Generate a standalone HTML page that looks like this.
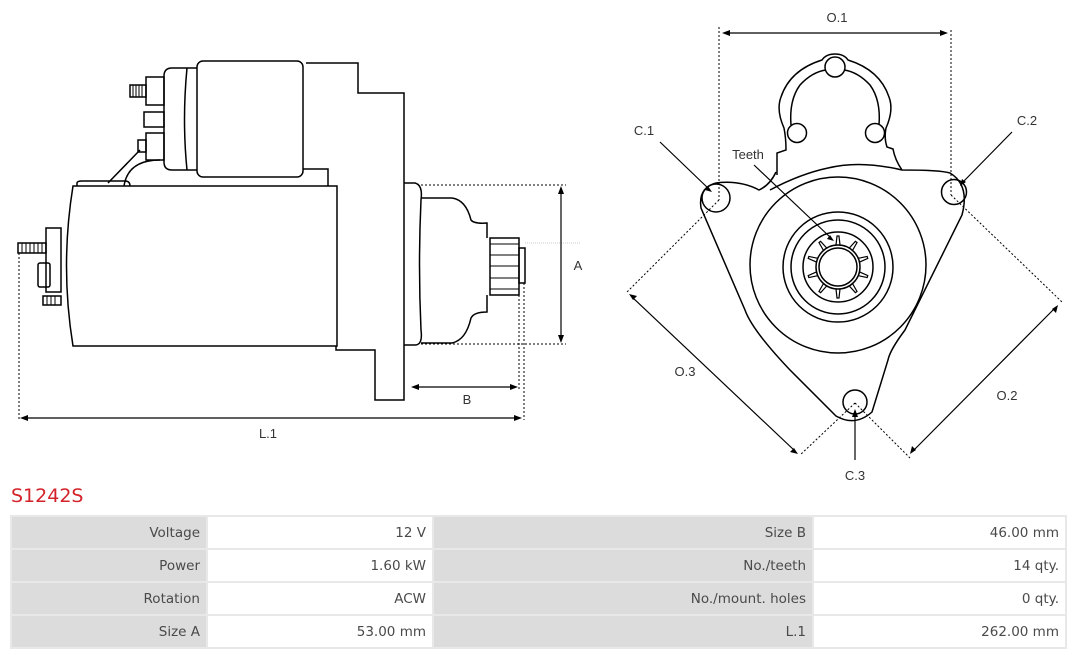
<!DOCTYPE html>
<html><head><meta charset="utf-8"><style>
body{margin:0;background:#fff;width:1080px;height:655px;overflow:hidden;font-family:"DejaVu Sans","Liberation Sans",sans-serif;}
svg{position:absolute;left:0;top:0}
.t{position:absolute;left:11px;top:485px;color:#d3222a;font-size:19px;}
table{position:absolute;left:10px;top:515px;width:1057px;border-collapse:separate;border-spacing:2px;background:#e8e8e8;font-size:13.5px;color:#4a4a4a}
td{height:31px;padding:0 6px;text-align:right}
td.l{background:#dcdcdc}
td.v{background:#fff}
</style></head><body>
<svg width="1080" height="500" viewBox="0 0 1080 500" fill="none" stroke="#000" stroke-width="1.5">
<!-- LEFT VIEW -->
<rect x="197" y="61" width="106" height="116" rx="6"/>
<path d="M197 68 H172 Q164 68 164 76 V162 Q164 170 172 170 H197"/>
<path d="M187 68 Q182 120 187 170"/>
<rect x="146" y="77" width="18" height="28"/><rect x="130" y="85" width="16" height="12"/>
<path d="M133 85v12M136 85v12M139 85v12M142 85v12" stroke-width="1"/>
<rect x="144" y="112" width="20" height="15"/>
<rect x="146" y="133" width="18" height="27"/><rect x="138" y="140" width="8" height="12"/>
<path d="M140 150 L108 183 M160 160 Q128 160 124 186"/>
<path d="M77 186 V183 Q77 181 82 181 H125 Q130 181 130 186"/>
<path d="M303 169 H328 V186"/>
<path d="M73 186 H337 V346 H73 Q60 266 73 186Z"/>
<path d="M306 63 H358 V93 H404 V400 H375 V350 H336 V346"/>
<path d="M404 183 H415 Q423 185 421 200 Q418 265 421 330 Q423 345 415 345 H404"/>
<path d="M421 198 H452 Q466 200 471 220 Q474 224 487 223 V238 M421 343 H452 Q466 340 471 318 Q474 312 487 312 V295"/>
<rect x="490" y="238" width="29" height="57"/>
<path d="M490 244H519M490 255H519M490 266H519M490 278H519M490 289H519" stroke-width="1"/>
<rect x="519" y="248" width="6" height="35"/>
<rect x="46" y="228" width="15" height="64"/>
<rect x="18" y="243" width="28" height="10"/>
<path d="M22 243v10M26 243v10M30 243v10M34 243v10M38 243v10M42 243v10" stroke-width="1"/>
<rect x="38" y="263" width="12" height="24" rx="2"/>
<rect x="43" y="296" width="18" height="9"/>
<path d="M47 296v9M51 296v9M55 296v9" stroke-width="1"/>
<!-- dims left -->
<g stroke-width="1" stroke-dasharray="2,2">
<path d="M421 185 H566 M421 344 H566 M519 295 V390 M524 283 V420 M19 253 V420"/>
</g>
<path d="M525 243 H580" stroke="#bbb" stroke-width="0.8" stroke-dasharray="1,1"/>
<g stroke-width="1.2">
<path d="M561 189 V340 M414 387 H515 M23 418 H519"/>
</g>
<g fill="#000" stroke="none">
<path d="M561 186 l-3 8 h6z M561 343 l-3 -8 h6z M411 387 l8 -3 v6z M518 387 l-8 -3 v6z M20 418 l8 -3 v6z M522 418 l-8 -3 v6z"/>
</g>
<!-- RIGHT VIEW -->
<path d="M777 175 V153 L786 150 Q786 138 784 128 Q776 110 781 97 Q790 70 822 60 Q826 54 835 54 Q844 54 848 60 Q880 70 889 97 Q894 110 886 128 Q884 138 887 147 L893 149 Q895 160 902 170"/>
<path d="M791 125 Q789 100 800 85 Q812 72 826 70 M844 70 Q858 72 870 85 Q881 100 879 125"/>
<circle cx="835" cy="67" r="10"/><circle cx="797" cy="133" r="9.5"/><circle cx="875" cy="133" r="9.5"/>
<path d="M776 172 Q770 185 759 190 Q740 180 716 183 Q698 188 701 208 L745 310 Q752 330 790 370 L836 416 Q855 427 872 412 L888 360 Q890 350 905 330 L962 215 Q970 185 950 173 Q940 170 902 170 Q860 160 828 168 Q800 174 770 190"/>
<circle cx="716" cy="198" r="14"/><circle cx="954" cy="192" r="12.5"/><circle cx="855" cy="402" r="12"/>
<circle cx="838" cy="265" r="88"/>
<circle cx="838" cy="267" r="55"/><circle cx="838" cy="267" r="47"/><circle cx="838" cy="267" r="35"/>
<circle cx="838" cy="267" r="22"/><circle cx="838" cy="267" r="19"/>
<g stroke-width="1.2">
<path d="M836 245 L837 236 H839 L840 245" transform="rotate(0 838 267)"/>
<path d="M836 245 L837 236 H839 L840 245" transform="rotate(36 838 267)"/>
<path d="M836 245 L837 236 H839 L840 245" transform="rotate(72 838 267)"/>
<path d="M836 245 L837 236 H839 L840 245" transform="rotate(108 838 267)"/>
<path d="M836 245 L837 236 H839 L840 245" transform="rotate(144 838 267)"/>
<path d="M836 245 L837 236 H839 L840 245" transform="rotate(180 838 267)"/>
<path d="M836 245 L837 236 H839 L840 245" transform="rotate(216 838 267)"/>
<path d="M836 245 L837 236 H839 L840 245" transform="rotate(252 838 267)"/>
<path d="M836 245 L837 236 H839 L840 245" transform="rotate(288 838 267)"/>
<path d="M836 245 L837 236 H839 L840 245" transform="rotate(324 838 267)"/>
</g>
<g stroke-width="1" stroke-dasharray="2,2">
<path d="M719 27 V200 M951 30 V195 M719 200 L626 293 M951 195 L1062 302 M855 403 L800 455 M855 403 L910 458"/>
</g>
<g stroke-width="1.2">
<path d="M726 33 H944 M632 297 L795 451 M1055 308 L913 451 M660 142 L710 190 M1012 132 L962 183 M855 460 V412 M754 165 L831 238"/>
</g>
<g fill="#000" stroke="none">
<path d="M722 33 l8 -3 v6z M948 33 l-8 -3 v6z M629 294 l8 2 l-4 4z M798 454 l-8 -2 l4 -4z M1058 305 l-2 8 l-4 -4z M910 454 l2 -8 l4 4z M712 192 l-7 -2 l3 -4z M960 186 l2 -7 l4 3z M855 409 l-3 8 h6z M834 241 l-7 -2 l3 -4z"/>
</g>
<g fill="#333" stroke="none" font-family="Liberation Sans, sans-serif" font-size="13" text-anchor="middle">
<text x="578" y="270">A</text><text x="467" y="404">B</text><text x="268" y="438">L.1</text>
<text x="837" y="22">O.1</text><text x="644" y="135">C.1</text><text x="1027" y="125">C.2</text>
<text x="748" y="159">Teeth</text><text x="685" y="376">O.3</text><text x="1007" y="400">O.2</text><text x="855" y="480">C.3</text>
</g>
</svg>
<div class="t">S1242S</div>
<table>
<tr><td class="l" style="width:182px">Voltage</td><td class="v" style="width:212px">12 V</td><td class="l" style="width:366px">Size B</td><td class="v">46.00 mm</td></tr>
<tr><td class="l">Power</td><td class="v">1.60 kW</td><td class="l">No./teeth</td><td class="v">14 qty.</td></tr>
<tr><td class="l">Rotation</td><td class="v">ACW</td><td class="l">No./mount. holes</td><td class="v">0 qty.</td></tr>
<tr><td class="l">Size A</td><td class="v">53.00 mm</td><td class="l">L.1</td><td class="v">262.00 mm</td></tr>
</table>
</body></html>
